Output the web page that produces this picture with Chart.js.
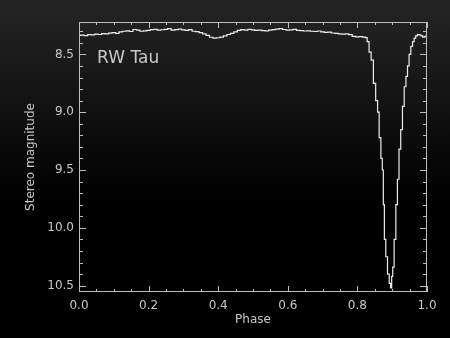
<!DOCTYPE html>
<html>
<head>
<meta charset="utf-8">
<script src="https://cdn.jsdelivr.net/npm/chart.js@4.4.0/dist/chart.umd.min.js"></script>
<style>
  html, body { margin: 0; padding: 0; }
  body {
    width: 450px; height: 338px; overflow: hidden;
    background: linear-gradient(to bottom, #252525 0px, #111 110px, #000 200px, #000 338px);
  }
  canvas { display: block; }
</style>
</head>
<body>
<canvas id="lightCurve" width="450" height="338"></canvas>
<script>
const phase = [
  0.00, 0.01, 0.02, 0.03, 0.04, 0.05, 0.06, 0.07, 0.08, 0.09,
  0.10, 0.11, 0.12, 0.13, 0.14, 0.15, 0.16, 0.17, 0.18, 0.19,
  0.20, 0.21, 0.22, 0.23, 0.24, 0.25, 0.26, 0.27, 0.28, 0.29,
  0.30, 0.31, 0.32, 0.33, 0.34, 0.35, 0.36, 0.37, 0.38, 0.39,
  0.40, 0.41, 0.42, 0.43, 0.44, 0.45, 0.46, 0.47, 0.48, 0.49,
  0.50, 0.51, 0.52, 0.53, 0.54, 0.55, 0.56, 0.57, 0.58, 0.59,
  0.60, 0.61, 0.62, 0.63, 0.64, 0.65, 0.66, 0.67, 0.68, 0.69,
  0.70, 0.71, 0.72, 0.73, 0.74, 0.75, 0.76, 0.77, 0.78, 0.79,
  0.80, 0.81, 0.82, 0.825, 0.831, 0.836, 0.843, 0.849, 0.856, 0.860,
  0.865, 0.870, 0.873, 0.876, 0.879, 0.884, 0.889, 0.894, 0.897, 0.900,
  0.903, 0.908, 0.913, 0.917, 0.922, 0.927, 0.932, 0.937, 0.942, 0.946,
  0.951, 0.956, 0.961, 0.965, 0.970, 0.975, 0.980, 0.985, 0.990, 0.995,
  1.000
];
const stereoMag = [
  8.335, 8.333, 8.338, 8.330, 8.332, 8.325, 8.328, 8.320, 8.322, 8.316,
  8.312, 8.318, 8.305, 8.300, 8.296, 8.302, 8.285, 8.290, 8.300, 8.296,
  8.292, 8.286, 8.284, 8.290, 8.287, 8.283, 8.278, 8.290, 8.286, 8.282,
  8.288, 8.292, 8.286, 8.300, 8.303, 8.312, 8.322, 8.335, 8.352, 8.360,
  8.356, 8.350, 8.340, 8.328, 8.318, 8.305, 8.292, 8.286, 8.290, 8.283,
  8.288, 8.292, 8.290, 8.294, 8.296, 8.290, 8.286, 8.282, 8.278, 8.285,
  8.290, 8.288, 8.284, 8.292, 8.294, 8.298, 8.296, 8.300, 8.302, 8.298,
  8.305, 8.310, 8.308, 8.315, 8.318, 8.322, 8.325, 8.322, 8.330, 8.345,
  8.348, 8.346, 8.350, 8.355, 8.39, 8.48, 8.55, 8.75, 8.90, 9.00,
  9.22, 9.40, 9.50, 9.80, 10.10, 10.25, 10.40, 10.48, 10.52, 10.42,
  10.34, 10.10, 9.80, 9.58, 9.32, 9.15, 8.95, 8.78, 8.69, 8.60,
  8.50, 8.43, 8.39, 8.36, 8.34, 8.33, 8.332, 8.34, 8.35, 8.345,
  8.348
];
const xTickLabels = [0.0, 0.2, 0.4, 0.6, 0.8, 1.0];
const yTickLabels = [8.5, 9.0, 9.5, 10.0, 10.5];
const starName = 'RW Tau';

const ink = '#c8c8c8';
const fontFamily = '"DejaVu Sans", sans-serif';

// inward ticks on all four sides plus the frame and the star label
const framePlugin = {
  id: 'frame',
  afterDraw(chart) {
    const { ctx, chartArea: a, scales: { x, y } } = chart;
    ctx.save();
    ctx.strokeStyle = '#bdbdbd';
    ctx.lineWidth = 1;
    ctx.strokeRect(a.left + 0.5, a.top + 0.5, a.right - a.left - 1, a.bottom - a.top - 1);
    ctx.beginPath();
    for (let i = 0; i <= 20; i++) {
      const v = i * 0.05;
      const px = Math.round(x.getPixelForValue(v)) + 0.5;
      const len = i % 4 === 0 ? 6 : 3;
      ctx.moveTo(px, a.bottom); ctx.lineTo(px, a.bottom - len);
      ctx.moveTo(px, a.top); ctx.lineTo(px, a.top + len);
    }
    for (let i = 82; i <= 105; i++) {
      const v = i / 10;
      if (v < y.min || v > y.max) continue;
      const py = Math.round(y.getPixelForValue(v)) + 0.5;
      const len = i % 5 === 0 ? 7 : 4;
      ctx.moveTo(a.left, py); ctx.lineTo(a.left + len, py);
      ctx.moveTo(a.right, py); ctx.lineTo(a.right - len, py);
    }
    ctx.stroke();
    ctx.fillStyle = ink;
    ctx.font = '17px ' + fontFamily;
    ctx.textBaseline = 'middle';
    ctx.textAlign = 'left';
    ctx.fillText(starName, x.getPixelForValue(0.052), y.getPixelForValue(8.537));
    ctx.restore();
  }
};

new Chart(document.getElementById('lightCurve'), {
  type: 'line',
  data: {
    datasets: [{
      data: phase.map((p, i) => ({ x: p, y: stereoMag[i] })),
      borderColor: '#ececec',
      borderWidth: 1.2,
      pointRadius: 0,
      stepped: 'middle',
      fill: false
    }]
  },
  options: {
    responsive: false,
    animation: false,
    layout: { padding: { top: 22, right: 23, left: 0, bottom: 0 } },
    plugins: { legend: { display: false }, tooltip: { enabled: false } },
    scales: {
      x: {
        type: 'linear',
        min: 0, max: 1,
        afterBuildTicks: s => { s.ticks = xTickLabels.map(v => ({ value: v })); },
        afterFit: s => { s.height = 46; },
        grid: { display: false, drawTicks: false },
        border: { display: false },
        ticks: {
          color: ink, padding: 7,
          font: { family: fontFamily, size: 12 },
          maxRotation: 0,
          callback: v => Number(v).toFixed(1)
        },
        title: {
          display: true, text: 'Phase', color: ink,
          font: { family: fontFamily, size: 12 },
          padding: { top: 0, bottom: 11 }
        }
      },
      y: {
        type: 'linear',
        reverse: true,
        min: 8.22, max: 10.555,
        afterBuildTicks: s => { s.ticks = yTickLabels.map(v => ({ value: v })); },
        afterFit: s => { s.width = 79; },
        grid: { display: false, drawTicks: false },
        border: { display: false },
        ticks: {
          color: ink, padding: 5,
          font: { family: fontFamily, size: 12 },
          callback: v => Number(v).toFixed(1)
        },
        title: {
          display: true, text: 'Stereo magnitude', color: ink,
          font: { family: fontFamily, size: 12 },
          padding: { top: 24, bottom: 0 }
        }
      }
    }
  },
  plugins: [framePlugin]
});
</script>
</body>
</html>
